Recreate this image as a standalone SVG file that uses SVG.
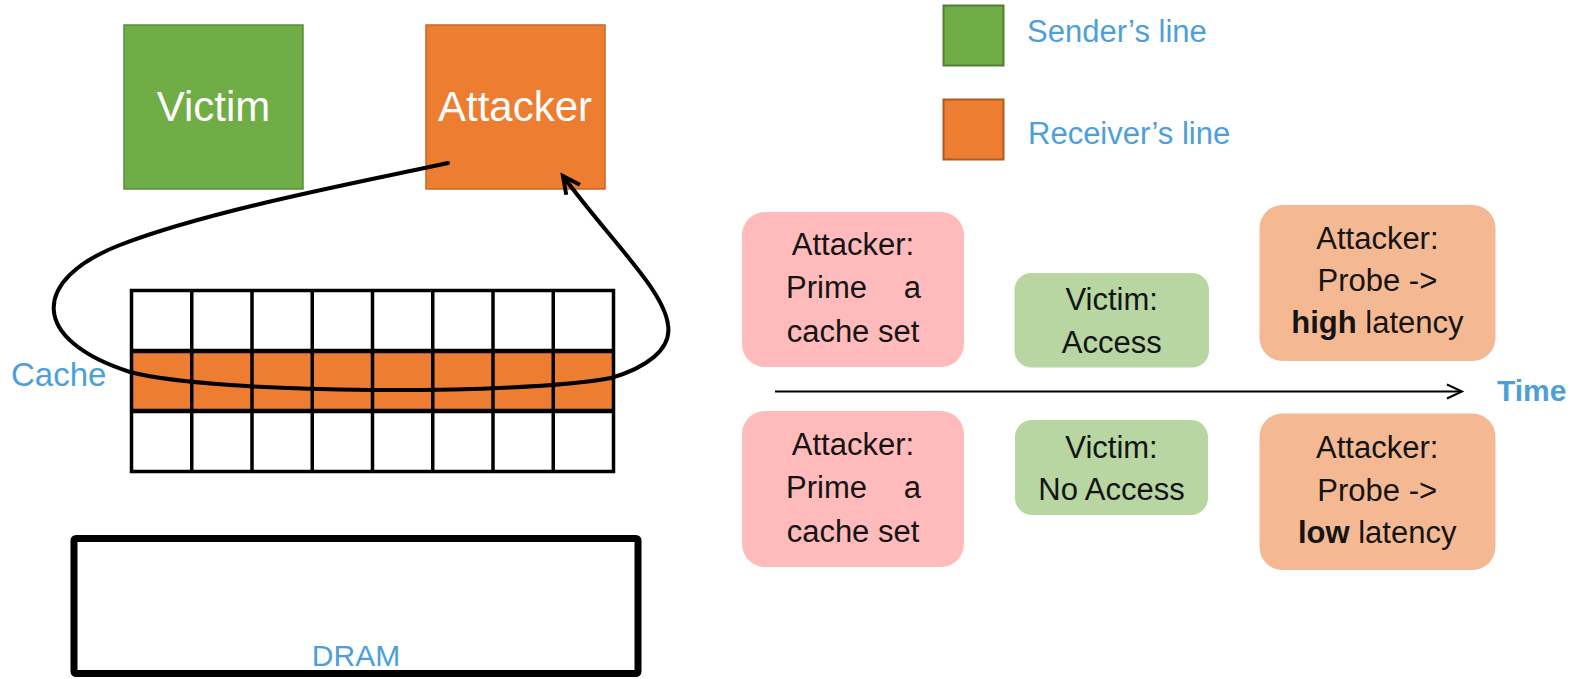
<svg xmlns="http://www.w3.org/2000/svg" width="1585" height="679" viewBox="0 0 1585 679">
<style>
.box{font-family:"Liberation Sans",Arial,sans-serif;font-size:31px;fill:#141414;text-anchor:middle}
.st{text-anchor:start}
.en{text-anchor:end}
.blue{font-family:"Liberation Sans",Arial,sans-serif;fill:#4D9FD9}
.big{font-family:"Liberation Sans",Arial,sans-serif;font-size:42px;fill:#fff;text-anchor:middle}
.pink{fill:#FFBBBB}
.lgreen{fill:#B7D6A2}
.peach{fill:#F4B992}
.grid{stroke:#000;stroke-width:3.5;fill:none}
</style>
<defs>
<marker id="arrBig" markerUnits="userSpaceOnUse" markerWidth="40" markerHeight="40" orient="auto" overflow="visible">
<path d="M-17,-8.5 L0,0 L-17,8.5" fill="none" stroke="#000" stroke-width="4" stroke-linejoin="miter"/>
</marker>
<marker id="arrSmall" markerUnits="userSpaceOnUse" markerWidth="30" markerHeight="30" orient="auto" overflow="visible">
<path d="M-15,-7 L0,0 L-15,7" fill="none" stroke="#000" stroke-width="2"/>
</marker>
</defs>

<g id="victim">
<rect x="124" y="25" width="179" height="164" fill="#70AD47" stroke="#5A8F38" stroke-width="1.5"/>
<text class="big" x="213.5" y="121">Victim</text>
</g>
<g id="attacker">
<rect x="426" y="25" width="179" height="164" fill="#ED7D31" stroke="#C9652A" stroke-width="1.5"/>
<text class="big" x="515" y="121">Attacker</text>
</g>

<g id="legend">
<rect x="943.5" y="5.5" width="60" height="60" fill="#70AD47" stroke="#507E32" stroke-width="2"/>
<text class="blue" x="1027" y="42" font-size="31">Sender’s line</text>
<rect x="943.5" y="99.5" width="60" height="60" fill="#ED7D31" stroke="#AE5A21" stroke-width="2"/>
<text class="blue" x="1028" y="144" font-size="31">Receiver’s line</text>
</g>

<g id="cache">
<rect x="131.5" y="290.5" width="482" height="181" fill="#fff"/>
<rect x="131.5" y="351" width="482" height="60" fill="#ED7D31"/>
<rect class="grid" x="131.5" y="290.5" width="482" height="181"/>
<path class="grid" d="M191.75,290.5V471.5M252,290.5V471.5M312.25,290.5V471.5M372.5,290.5V471.5M432.75,290.5V471.5M493,290.5V471.5M553.25,290.5V471.5"/>
<path d="M131.5,351H613.5M131.5,411H613.5" stroke="#000" stroke-width="4.5"/>
<text class="blue" x="11" y="386" font-size="33">Cache</text>
</g>

<g id="dram">
<rect x="74" y="538.5" width="564" height="135" rx="2" fill="#fff" stroke="#000" stroke-width="7"/>
<text class="blue" x="356" y="666" font-size="30" text-anchor="middle">DRAM</text>
</g>

<g id="prime1">
<rect class="pink" x="742" y="212" width="222" height="155" rx="23"/>
<text class="box" x="853" y="255">Attacker:</text>
<text class="box st" x="786" y="298">Prime</text>
<text class="box en" x="921" y="298">a</text>
<text class="box" x="853" y="341.5">cache set</text>
</g>
<g id="access">
<rect class="lgreen" x="1014.5" y="273" width="194.5" height="94.5" rx="17"/>
<text class="box" x="1111.7" y="310">Victim:</text>
<text class="box" x="1111.7" y="353">Access</text>
</g>
<g id="probe1">
<rect class="peach" x="1259.5" y="205" width="236" height="156" rx="23"/>
<text class="box" x="1377.4" y="249">Attacker:</text>
<text class="box" x="1377.4" y="291">Probe -&gt;</text>
<text class="box" x="1377.4" y="333"><tspan font-weight="bold">high</tspan> latency</text>
</g>

<g id="prime2">
<rect class="pink" x="742" y="411" width="222" height="156" rx="23"/>
<text class="box" x="853" y="455">Attacker:</text>
<text class="box st" x="786" y="498">Prime</text>
<text class="box en" x="921" y="498">a</text>
<text class="box" x="853" y="541.5">cache set</text>
</g>
<g id="noaccess">
<rect class="lgreen" x="1015" y="420" width="193" height="95" rx="17"/>
<text class="box" x="1111.5" y="458">Victim:</text>
<text class="box" x="1111.5" y="500">No Access</text>
</g>
<g id="probe2">
<rect class="peach" x="1259.5" y="413.5" width="236" height="156.5" rx="23"/>
<text class="box" x="1377.2" y="458">Attacker:</text>
<text class="box" x="1377.2" y="501">Probe -&gt;</text>
<text class="box" x="1377.2" y="543"><tspan font-weight="bold">low</tspan> latency</text>
</g>

<g id="time">
<text class="blue" x="1497" y="401" font-size="30" font-weight="bold">Time</text>
</g>

<g id="connectors">
<path d="M448,163 C370,180 210,210 120,245 C30,280 30,340 130,372 C220,395 520,395 611,378 C645,368 672,350 668,325 C664,290 610,240 563,176" fill="none" stroke="#000" stroke-width="4" stroke-linecap="round" marker-end="url(#arrBig)"/>
<line x1="775" y1="391.5" x2="1462" y2="391.5" stroke="#000" stroke-width="2" marker-end="url(#arrSmall)"/>
</g>
</svg>
